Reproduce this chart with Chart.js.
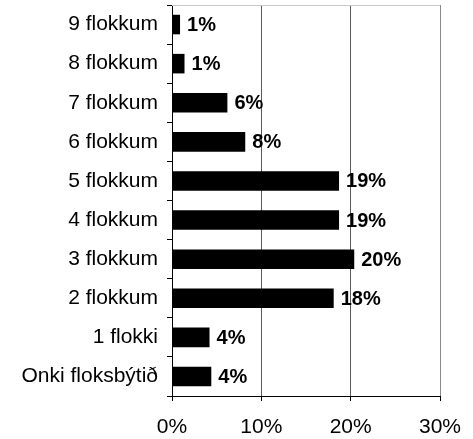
<!DOCTYPE html>
<html>
<head>
<meta charset="utf-8">
<script src="https://cdn.jsdelivr.net/npm/chart.js@4/dist/chart.umd.min.js"></script>
<style>
  html, body { margin: 0; padding: 0; background: #fff; }
  #wrap { width: 473px; height: 439px; }
</style>
</head>
<body>
<div id="wrap"><canvas id="myChart" width="473" height="439"></canvas></div>
<script>
// flokkar, ovast fyrst
var labels = ['9 flokkum', '8 flokkum', '7 flokkum', '6 flokkum', '5 flokkum',
              '4 flokkum', '3 flokkum', '2 flokkum', '1 flokki', 'Onki floksbýtið'];
var values = [0.9, 1.4, 6.2, 8.2, 18.7, 18.7, 20.4, 18.1, 4.2, 4.4];
var tickValues = [0, 10, 20, 30];

var FONT = "'Liberation Sans', Arial, sans-serif";

// tekstur aftan fyri hvonn bjálka + ovara ramma
var barLabels = {
  id: 'barLabels',
  afterDatasetsDraw: function(chart){
    var ctx = chart.ctx;
    var area = chart.chartArea;
    ctx.save();
    ctx.strokeStyle = '#c8c8c8';
    ctx.lineWidth = 1;
    ctx.beginPath();
    ctx.moveTo(area.left, area.top + 0.5);
    ctx.lineTo(area.right, area.top + 0.5);
    ctx.stroke();

    ctx.fillStyle = '#000';
    ctx.font = 'bold 20px ' + FONT;
    ctx.textAlign = 'left';
    ctx.textBaseline = 'middle';
    chart.getDatasetMeta(0).data.forEach(function(bar, i){
      ctx.fillText(Math.round(values[i]) + '%', bar.x + 7, bar.y + 1);
    });
    ctx.restore();
  }
};

var ctx = document.getElementById('myChart');
var myChart = new Chart(ctx, {
  type: 'bar',
  data: {
    labels: labels,
    datasets: [{
      data: values,
      backgroundColor: '#000',
      borderWidth: 0,
      categoryPercentage: 1,
      barPercentage: 0.5
    }]
  },
  options: {
    indexAxis: 'y',
    responsive: false,
    animation: false,
    layout: { padding: { top: 5, right: 33, left: 0, bottom: 0 } },
    plugins: {
      legend: { display: false },
      tooltip: { enabled: false }
    },
    scales: {
      x: {
        min: 0,
        max: 30,
        afterBuildTicks: function(scale){
          scale.ticks = tickValues.map(function(v){ return { value: v }; });
        },
        afterFit: function(scale){
          scale.height = 43;
          scale.paddingLeft = 0;
          scale.paddingRight = 0;
        },
        grid: {
          color: function(c){ return c.index === 0 ? 'rgba(0,0,0,0)' : (c.index === 3 ? '#8a8a8a' : '#5a5a5a'); },
          tickColor: '#000',
          tickLength: 5,
          lineWidth: 1
        },
        border: { color: '#000', width: 1 },
        ticks: {
          color: '#000',
          font: { family: FONT, size: 21 },
          padding: 14,
          callback: function(v){ return v + '%'; }
        }
      },
      y: {
        afterFit: function(scale){
          scale.width = 172;
          scale.paddingTop = 0;
          scale.paddingBottom = 0;
        },
        grid: {
          offset: true,
          drawOnChartArea: false,
          tickColor: '#000',
          tickLength: 5
        },
        border: { color: '#000', width: 1 },
        ticks: {
          color: '#000',
          font: { family: FONT, size: 21 },
          padding: 9
        }
      }
    }
  },
  plugins: [barLabels]
});
</script>
</body>
</html>
